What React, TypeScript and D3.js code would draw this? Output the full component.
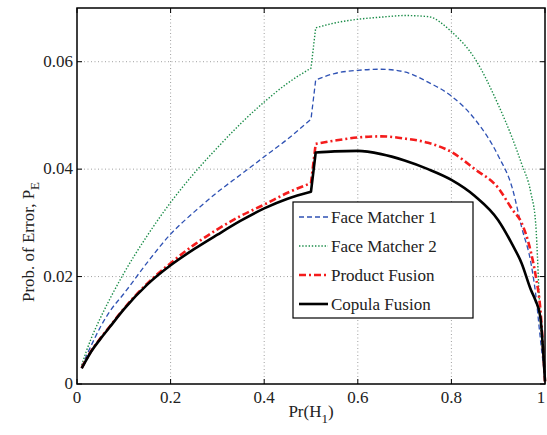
import React from 'react';
import * as d3 from 'd3';

const width = 547;
const height = 435;
const margin = { top: 8, right: 2, bottom: 51, left: 77 };

// Pr(H1) sample points
const prH1 = [0.01, 0.02, 0.03, 0.05, 0.07, 0.1, 0.15, 0.2, 0.25, 0.3, 0.35, 0.4, 0.45, 0.5, 0.51, 0.55, 0.6, 0.65, 0.7, 0.75, 0.8, 0.85, 0.9, 0.93, 0.95, 0.97, 0.98, 0.99, 1.0];

const faceMatcher1 = [0.0032, 0.0052, 0.0071, 0.0106, 0.0135, 0.0168, 0.0226, 0.0279, 0.0320, 0.0357, 0.0390, 0.0423, 0.0456, 0.0493, 0.0566, 0.0578, 0.0584, 0.0586, 0.0581, 0.0562, 0.0536, 0.0493, 0.0425, 0.0365, 0.0292, 0.0225, 0.0168, 0.0085, 0.001];
const faceMatcher2 = [0.0035, 0.0061, 0.0084, 0.0123, 0.0158, 0.0206, 0.0276, 0.0338, 0.0392, 0.0440, 0.0485, 0.0525, 0.0560, 0.0588, 0.0663, 0.0672, 0.0679, 0.0683, 0.0686, 0.0684, 0.0656, 0.0606, 0.0520, 0.0458, 0.0410, 0.0355, 0.0300, 0.0120, 0.001];
const productFusion = [0.0030, 0.0046, 0.0061, 0.0085, 0.0107, 0.0140, 0.0187, 0.0225, 0.0259, 0.0288, 0.0313, 0.0334, 0.0356, 0.0374, 0.0447, 0.0453, 0.0459, 0.0461, 0.0457, 0.0449, 0.0432, 0.0400, 0.0365, 0.0325, 0.0300, 0.0245, 0.0202, 0.0140, 0.0005];
const copulaFusion = [0.0029, 0.0045, 0.0060, 0.0084, 0.0106, 0.0139, 0.0185, 0.0221, 0.0251, 0.0278, 0.0304, 0.0327, 0.0345, 0.0358, 0.0431, 0.0433, 0.0434, 0.0428, 0.0416, 0.0400, 0.0380, 0.0350, 0.0305, 0.0260, 0.0225, 0.0175, 0.0155, 0.0125, 0.0005];

const xTicks = [0, 0.2, 0.4, 0.6, 0.8, 1];
const yTicks = [0, 0.02, 0.04, 0.06];

const seriesNames = ['Face Matcher 1', 'Face Matcher 2', 'Product Fusion', 'Copula Fusion'];

const series = [
  { name: seriesNames[0], values: faceMatcher1, color: '#2f52b4', width: 1.3, dash: '5,3' },
  { name: seriesNames[1], values: faceMatcher2, color: '#1a8c48', width: 1.4, dash: '1.4,1.8' },
  { name: seriesNames[2], values: productFusion, color: '#f41c1c', width: 2.6, dash: '7,3,2,3' },
  { name: seriesNames[3], values: copulaFusion, color: '#000000', width: 2.6, dash: null },
];

const font = "'Liberation Serif', 'DejaVu Serif', serif";

export default function App() {
  const xScale = d3.scaleLinear().domain([0, 1]).range([margin.left, width - margin.right]);
  const yScale = d3.scaleLinear().domain([0, 0.07]).range([height - margin.bottom, margin.top]);

  const line = d3.line<[number, number]>()
    .x(d => xScale(d[0]))
    .y(d => yScale(d[1]))
    .curve(d3.curveMonotoneX);

  // smooth on each side of the jump, straight across it
  const makePath = (values: number[]) => {
    const pts = prH1.map((x, i) => [x, values[i]] as [number, number]);
    const pre = pts.filter(p => p[0] <= 0.5);
    const post = pts.filter(p => p[0] > 0.5);
    return (line(pre) || '') + (line(post) || '').replace(/^M/, 'L');
  };

  const x0 = xScale(0), x1 = xScale(1);
  const y0 = yScale(0), y1 = yScale(0.07);

  // legend placement
  const lg = { x: 293, y: 202, w: 180, h: 116, row: 29 };

  return (
    <svg width={width} height={height} style={{ position: 'absolute', left: 0, top: 0, background: '#fff', fontFamily: font }}>
      {/* grid */}
      <g stroke="#a0a0a0" strokeWidth={1} strokeDasharray="1,2.5">
        {xTicks.filter(t => t > 0 && t < 1).map(t => (
          <line key={'gx' + t} x1={xScale(t)} x2={xScale(t)} y1={y0} y2={y1} />
        ))}
        {yTicks.filter(t => t > 0).map(t => (
          <line key={'gy' + t} x1={x0} x2={x1} y1={yScale(t)} y2={yScale(t)} />
        ))}
      </g>

      {/* ticks on all sides */}
      <g stroke="#000" strokeWidth={1}>
        {xTicks.map(t => (
          <g key={'tx' + t}>
            <line x1={xScale(t)} x2={xScale(t)} y1={y0} y2={y0 - 5} />
            <line x1={xScale(t)} x2={xScale(t)} y1={y1} y2={y1 + 5} />
          </g>
        ))}
        {yTicks.map(t => (
          <g key={'ty' + t}>
            <line x1={x0} x2={x0 + 5} y1={yScale(t)} y2={yScale(t)} />
            <line x1={x1} x2={x1 - 5} y1={yScale(t)} y2={yScale(t)} />
          </g>
        ))}
      </g>

      {/* curves */}
      {series.map(s => (
        <path key={s.name}
          d={makePath(s.values)}
          fill="none"
          stroke={s.color}
          strokeWidth={s.width}
          strokeDasharray={s.dash || undefined}
          strokeLinejoin="round" />
      ))}

      {/* axis box */}
      <rect x={x0} y={y1} width={x1 - x0} height={y0 - y1} fill="none" stroke="#000" strokeWidth={1.5} />

      {/* tick labels */}
      <g fontSize={17} fill="#222">
        {xTicks.map(t => (
          <text key={'lx' + t} x={Math.min(xScale(t), width - 6)} y={y0 + 19} textAnchor="middle">{d3.format('~g')(t)}</text>
        ))}
        {yTicks.map(t => (
          <text key={'ly' + t} x={x0 - 4} y={yScale(t) + 5} textAnchor="end">{t === 0 ? '0' : d3.format('.2f')(t)}</text>
        ))}
      </g>

      {/* axis titles */}
      <text x={xScale(0.5)} y={417} textAnchor="middle" fontSize={17} fill="#222">
        Pr(H<tspan fontSize={13} dy={6}>1</tspan><tspan dy={-6}>)</tspan>
      </text>
      <text transform={`translate(34, 242) rotate(-90)`} textAnchor="middle" fontSize={17} fill="#222">
        Prob. of Error, P<tspan fontSize={13} dy={5}>E</tspan>
      </text>

      {/* legend */}
      <g>
        <rect x={lg.x} y={lg.y} width={lg.w} height={lg.h} fill="#fff" stroke="#000" strokeWidth={1.2} />
        {series.map((s, i) => {
          const cy = lg.y + 15 + i * lg.row;
          return (
            <g key={'lg' + s.name}>
              <line x1={lg.x + 6} x2={lg.x + 35} y1={cy} y2={cy}
                stroke={s.color} strokeWidth={s.width} strokeDasharray={s.dash || undefined} />
              <text x={lg.x + 38} y={cy + 5.5} fontSize={17} fill="#222">{s.name}</text>
            </g>
          );
        })}
      </g>
    </svg>
  );
}
